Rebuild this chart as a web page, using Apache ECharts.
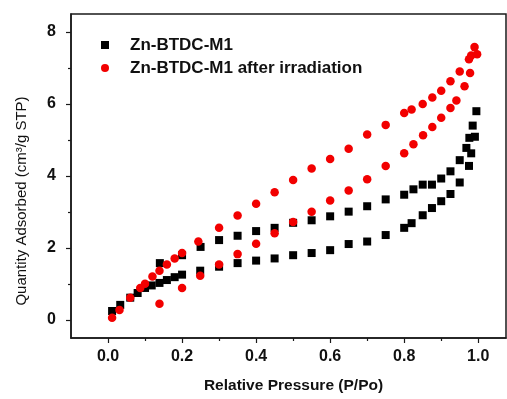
<!DOCTYPE html>
<html><head><meta charset="utf-8">
<script src="https://cdn.jsdelivr.net/npm/echarts@6/dist/echarts.min.js"></script>
<style>html,body{margin:0;padding:0;background:#fff}#c{width:507px;height:399px}</style>
</head><body><div id="c"></div>
<script>
const seriesNames = ['Zn-BTDC-M1', 'Zn-BTDC-M1 after irradiation'];
// Zn-BTDC-M1: lower (adsorption) and upper (desorption) branches
const pristineLower = [[0.011,0.25],[0.033,0.42],[0.06,0.62],[0.08,0.75],[0.10,0.89],[0.118,0.96],[0.139,1.03],[0.159,1.11],[0.18,1.19],[0.2,1.26],[0.249,1.37],[0.3,1.48],[0.35,1.58],[0.4,1.65],[0.45,1.71],[0.5,1.80],[0.55,1.86],[0.6,1.94],[0.65,2.11],[0.7,2.18],[0.75,2.36],[0.8,2.56],[0.82,2.69],[0.85,2.91],[0.875,3.11],[0.9,3.30],[0.925,3.50],[0.95,3.82],[0.975,4.28],[0.991,5.09],[0.995,5.80]];
const pristineUpper = [[0.985,5.40],[0.976,5.06],[0.981,4.63],[0.968,4.78],[0.95,4.44],[0.925,4.13],[0.9,3.93],[0.875,3.76],[0.85,3.76],[0.825,3.63],[0.8,3.48],[0.75,3.35],[0.7,3.16],[0.65,3.01],[0.6,2.88],[0.55,2.77],[0.5,2.70],[0.45,2.56],[0.4,2.47],[0.35,2.34],[0.3,2.22],[0.25,2.03],[0.2,1.80],[0.14,1.58]];
// Zn-BTDC-M1 after irradiation: upper and lower branches
const irradUpper = [[0.011,0.06],[0.031,0.28],[0.06,0.62],[0.087,0.89],[0.10,1.01],[0.12,1.21],[0.139,1.37],[0.159,1.54],[0.18,1.71],[0.2,1.86],[0.244,2.18],[0.3,2.56],[0.35,2.90],[0.4,3.23],[0.45,3.55],[0.5,3.89],[0.55,4.21],[0.6,4.47],[0.65,4.76],[0.7,5.15],[0.75,5.42],[0.8,5.75],[0.82,5.85],[0.85,6.00],[0.876,6.18],[0.9,6.37],[0.925,6.63],[0.95,6.90],[0.975,7.24],[0.981,7.35],[0.99,7.58],[0.997,7.38]];
const irradLower = [[0.978,6.86],[0.963,6.49],[0.941,6.10],[0.925,5.89],[0.9,5.62],[0.876,5.36],[0.851,5.13],[0.825,4.88],[0.8,4.63],[0.75,4.28],[0.7,3.91],[0.65,3.60],[0.6,3.32],[0.55,3.01],[0.5,2.72],[0.45,2.41],[0.4,2.12],[0.35,1.83],[0.3,1.54],[0.249,1.23],[0.2,0.89],[0.139,0.45]];
const xTicks = [0, 0.2, 0.4, 0.6, 0.8, 1.0];
const xMinorTicks = [0.1, 0.3, 0.5, 0.7, 0.9];
const yTicks = [0, 2, 4, 6, 8];
const yMinorTicks = [1, 3, 5, 7];
const xTitle = 'Relative Pressure (P/Po)';
const yTitle = 'Quantity Adsorbed (cm³/g STP)';

const FONT = 'Liberation Sans, Arial, Helvetica, sans-serif';
const AX = '#1a1a1a';
const chart = echarts.init(document.getElementById('c'), null, {renderer: 'canvas'});
chart.setOption({
  backgroundColor: '#fff',
  animation: false,
  grid: {left: 71, top: 14, right: 1, bottom: 56, show: true, borderColor: AX, borderWidth: 1.5, containLabel: false},
  legend: {
    orient: 'vertical', left: 101, top: 35, padding: 0, itemGap: 3,
    itemWidth: 8, itemHeight: 8,
    textStyle: {fontFamily: FONT, fontWeight: 'bold', fontSize: 17, color: '#111', lineHeight: 20, padding: [0,0,0,16]},
    data: [{name: seriesNames[0], icon: 'rect'}, {name: seriesNames[1], icon: 'circle'}]
  },
  xAxis: [{
    type: 'value', min: -0.1, max: 1.075,
    name: xTitle, nameLocation: 'middle', nameGap: 40,
    nameTextStyle: {fontFamily: FONT, fontWeight: 'bold', fontSize: 15.5, color: '#111', padding: [0,0,0,10]},
    axisLine: {show: true, onZero: false, lineStyle: {color: AX, width: 1.5}},
    axisTick: {show: true, inside: false, length: 5, customValues: xTicks, lineStyle: {color: AX, width: 1.2}},
    axisLabel: {customValues: xTicks, margin: 11, fontFamily: FONT, fontWeight: 'bold', fontSize: 16, color: '#111', formatter: v => v.toFixed(1)},
    splitLine: {show: false}
  }, {
    type: 'value', min: -0.1, max: 1.075, position: 'bottom',
    axisLine: {show: false, onZero: false},
    axisTick: {show: true, inside: false, length: 3, customValues: xMinorTicks, lineStyle: {color: AX, width: 1.2}},
    axisLabel: {show: false}, splitLine: {show: false}
  }],
  yAxis: [{
    type: 'value', min: -0.5, max: 8.5,
    name: yTitle, nameLocation: 'middle', nameGap: 42, nameRotate: 90,
    nameTextStyle: {fontFamily: FONT, fontWeight: 'normal', fontSize: 15, color: '#111', padding: [0,50,0,0]},
    axisLine: {show: true, onZero: false, lineStyle: {color: AX, width: 1.5}},
    axisTick: {show: true, inside: false, length: 5, customValues: yTicks, lineStyle: {color: AX, width: 1.2}},
    axisLabel: {customValues: yTicks, margin: 15, fontFamily: FONT, fontWeight: 'bold', fontSize: 16, color: '#111'},
    splitLine: {show: false}
  }, {
    type: 'value', min: -0.5, max: 8.5, position: 'left',
    axisLine: {show: false, onZero: false},
    axisTick: {show: true, inside: false, length: 3, customValues: yMinorTicks, lineStyle: {color: AX, width: 1.2}},
    axisLabel: {show: false}, splitLine: {show: false}
  }],
  series: [{
    name: seriesNames[0], type: 'scatter', symbol: 'rect', symbolSize: 8,
    itemStyle: {color: '#000', opacity: 1}, data: pristineLower.concat(pristineUpper), z: 2
  }, {
    name: seriesNames[1], type: 'scatter', symbol: 'circle', symbolSize: 8.5,
    itemStyle: {color: '#f20000', opacity: 1}, data: irradUpper.concat(irradLower), z: 3
  }]
});
</script></body></html>
